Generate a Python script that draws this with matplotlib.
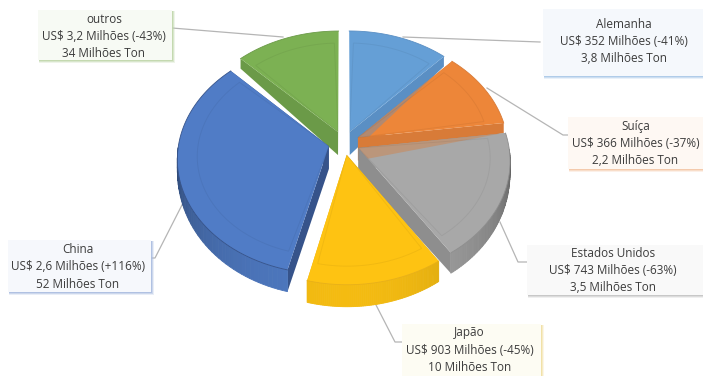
import numpy as np
import matplotlib
matplotlib.use('Agg')
import matplotlib.pyplot as plt
from matplotlib.patches import Polygon, Rectangle

# share of each slice (%), clockwise from the top
countries = ['Alemanha', 'Suíça', 'Estados Unidos', 'Japão', 'China', 'outros']
shares = [12.0, 10.9, 17.8, 13.1, 33.7, 12.5]
values = ['US$ 352 Milhões (-41%)', 'US$ 366 Milhões (-37%)', 'US$ 743 Milhões (-63%)',
          'US$ 903 Milhões (-45%)', 'US$ 2,6 Milhões (+116%)', 'US$ 3,2 Milhões (-43%)']
tons = ['3,8 Milhões Ton', '2,2 Milhões Ton', '3,5 Milhões Ton',
        '10 Milhões Ton', '52 Milhões Ton', '34 Milhões Ton']

top_colors = ['#659fd6', '#ed8639', '#a8a8a8', '#fec312', '#507cc6', '#7cb153']
wall_colors = ['#5a8fc4', '#d87b38', '#8e8e8e', '#e8b018', '#36538a', '#6b9a48']
box_fill = ['#f5f8fc', '#fef8f3', '#f9f9f9', '#fdfcf3', '#f6f8fc', '#f7faf4']
box_shadow = ['#a9c8e8', '#f4c6a5', '#c4c4c4', '#f0dfa0', '#a9bce0', '#bfd6aa']

# label boxes: left, top, right, bottom in pixels
boxes = [(543, 9, 703, 76), (568, 117, 703, 169), (527, 245, 703, 295),
         (402, 324, 541, 376), (8, 240, 151, 292), (38, 10, 172, 60)]
text_dx = [1, 0, -2, -2, -1.5, -1]
text_dy = [-1, 0.5, 0.5, 0, 1, 1.5]
leaders = [[(403, 37), (540, 42)],
           [(487, 88), (563, 135), (568, 135)],
           [(500, 222), (518, 262), (527, 262)],
           [(375, 303), (395, 342), (402, 342)],
           [(183, 203), (155, 258), (151, 258)],
           [(172, 28), (283, 37)]]

cx, cy = 344, 143
rx, ry = 150, 113.7
persp = 0.104
explode = 0.105
t_apex = 23


def project(theta, r, mid):
    # theta clockwise from the top, disc coordinates with y towards the viewer
    x = explode * np.sin(mid) + r * np.sin(theta)
    y = -explode * np.cos(mid) - r * np.cos(theta)
    s = 1 / (1 - persp * y)
    return cx + rx * x * s, cy + ry * y * s


def rim_drop(theta):
    front = np.clip(-np.cos(theta), 0, 1)
    return np.maximum(10, 4 + 18 * front ** 0.5)


def shade(col, k):
    return tuple(np.clip(np.array(matplotlib.colors.to_rgb(col)) * k, 0, 1))


def wall_points(i, a):
    mid = (edges[i] + edges[i + 1]) / 2
    px, py = project(0.0, 0.0, mid)
    ex, ey = project(a, 1.0, mid)
    return [(px, py), (ex, ey), (ex, ey + rim_drop(a)), (px, py + t_apex)]


fig = plt.figure(figsize=(7.03, 3.76), dpi=100)
ax = fig.add_axes([0, 0, 1, 1])
ax.set_xlim(0, 703)
ax.set_ylim(376, 0)
ax.axis('off')

edges = np.radians(np.cumsum([0] + shares) * 3.6)

# back slices first so the front ones sit on top
for i in [0, 5, 1, 2, 4, 3]:
    a0, a1 = edges[i], edges[i + 1]
    mid = (a0 + a1) / 2
    th = np.linspace(a0, a1, 70)
    px, py = project(0.0, 0.0, mid)
    ox, oy = project(th, 1.0, mid)

    for a in (a0, a1):
        ax.add_patch(Polygon(wall_points(i, a), fc=wall_colors[i], ec='none', zorder=2))

    # outer rim, only where it faces the viewer, darker towards the sides
    for k in range(len(th) - 1):
        if -np.cos(th[k]) < 0 or -np.cos(th[k + 1]) < 0:
            continue
        light = 0.5 + 0.46 * np.clip(-np.cos(th[k]), 0, 1) ** 0.8
        col = shade(top_colors[i], light)
        ax.add_patch(Polygon([(ox[k], oy[k]), (ox[k + 1], oy[k + 1]),
                              (ox[k + 1], oy[k + 1] + rim_drop(th[k + 1])),
                              (ox[k], oy[k] + rim_drop(th[k]))],
                             fc=col, ec=col, lw=0.6, zorder=2))

    # top face
    top = Polygon([(px, py)] + list(zip(ox, oy)), fc=top_colors[i], ec='none', zorder=2)
    ax.add_patch(top)

    # wall of the previous slice showing faintly through the top face
    if i in (1, 2):
        ghost = Polygon(wall_points(i - 1, edges[i]), fc=wall_colors[i - 1], ec='none',
                        alpha=0.4, zorder=2)
        ax.add_patch(ghost)
        ghost.set_clip_path(top)

    # rim edge and a faint bevel inside the top face
    ax.plot(ox, oy, color=wall_colors[i], lw=0.6, zorder=2)
    inner = np.linspace(a0 + 0.035, a1 - 0.035, 50)
    bx, by = project(inner, 0.87, mid)
    ax.add_patch(Polygon([(px, py)] + list(zip(bx, by)), fc='none', ec='black',
                         lw=0.7, alpha=0.05, zorder=2))

# leader lines
for pts in leaders:
    ax.plot([p[0] for p in pts], [p[1] for p in pts], color='#b5b5b5', lw=0.9, zorder=1)

# label boxes with a soft tinted shadow
for i, (x0, y0, x1, y1) in enumerate(boxes):
    for off, al in ((3, 0.25), (2, 0.45), (1, 0.8)):
        ax.add_patch(Rectangle((x0 + 1, y0 + 1), x1 - x0 - 1 + off, y1 - y0 - 1 + off,
                               fc=box_shadow[i], ec='none', alpha=al, zorder=3))
    ax.add_patch(Rectangle((x0, y0), x1 - x0, y1 - y0, fc=box_fill[i], ec='none', zorder=4))
    ax.text((x0 + x1) / 2 + text_dx[i], (y0 + y1) / 2 + text_dy[i],
            countries[i] + '\n' + values[i] + '\n' + tons[i],
            ha='center', va='center', fontsize=8.5, family='Open Sans', color='#3c3c3c',
            linespacing=1.42, zorder=5)

fig.savefig('out.png', dpi=100)
